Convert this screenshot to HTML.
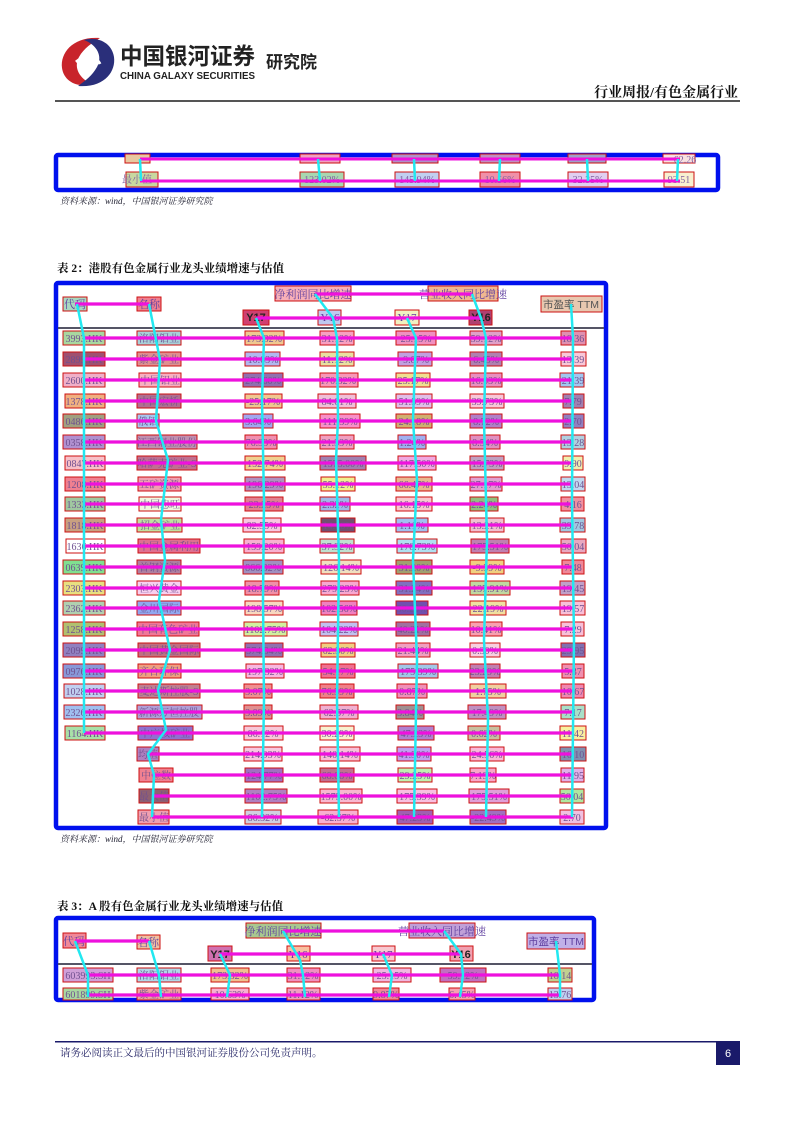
<!DOCTYPE html>
<html><head><meta charset="utf-8"><style>
html,body{margin:0;padding:0;background:#fff;}
body{width:794px;height:1123px;position:relative;overflow:hidden;font-family:"Liberation Serif","Noto Serif CJK SC",serif;}
svg{position:absolute;left:0;top:0;}
</style></head><body>
<svg width="794" height="1123" viewBox="0 0 794 1123" xmlns="http://www.w3.org/2000/svg" font-family="Liberation Serif, Noto Serif CJK SC, serif">
<!-- header -->
<path d="M100 38 C74 36 60 52 62 68 C64 82 78 88 92 84 C80 79 73 68 79 57 C84 48 92 43 100 38Z" fill="#c8242b"/>
<path d="M78 86 C104 88 116 72 114 57 C112 43 98 36 84 40 C97 45 103 56 97 67 C92 76 86 80 78 86Z" fill="#2a2f7a"/>
<path d="M76 62 C84 55 96 56 100 64" stroke="#fff" stroke-width="3" fill="none"/>
<text x="120" y="64" font-family="Liberation Sans, Noto Sans CJK SC, sans-serif" font-size="23" font-weight="bold" fill="#222" textLength="135" lengthAdjust="spacingAndGlyphs">中国银河证券</text>
<text x="120" y="79" font-family="Liberation Sans, sans-serif" font-size="10" font-weight="bold" fill="#222" textLength="135" lengthAdjust="spacingAndGlyphs">CHINA GALAXY SECURITIES</text>
<text x="266" y="68" font-family="Liberation Sans, Noto Sans CJK SC, sans-serif" font-size="17" font-weight="bold" fill="#222">研究院</text>
<text x="738" y="97" text-anchor="end" font-size="14" font-weight="bold" fill="#111">行业周报/有色金属行业</text>
<rect x="55" y="100" width="685" height="2" fill="#555"/>

<!-- table 1 -->
<rect x="56" y="155" width="662" height="35" fill="#fff" stroke="#0010ee" stroke-width="4.5" rx="2"/>
<g font-size="10" text-anchor="middle" stroke="#cc1111" stroke-width="1">
<rect x="125" y="154" width="25" height="9" fill="#e8c8a0"/><rect x="300" y="154" width="40" height="9" fill="#f0a0c0"/><rect x="392" y="154" width="46" height="9" fill="#b090c8"/><rect x="480" y="154" width="40" height="9" fill="#c090c0"/><rect x="568" y="154" width="38" height="9" fill="#a0a0c8"/><rect x="663" y="154" width="32" height="9" fill="#f8e0e0"/>
<rect x="126" y="172" width="32" height="15" fill="#c8d8a0"/><rect x="300" y="172" width="44" height="15" fill="#a8d8b0"/><rect x="395" y="172" width="44" height="15" fill="#c0d0f0"/><rect x="480" y="172" width="40" height="15" fill="#f090a8"/><rect x="568" y="172" width="40" height="15" fill="#e0d0f0"/><rect x="664" y="172" width="30" height="15" fill="#f8f0d0"/>
</g>
<g font-size="10" text-anchor="middle" fill="#8060a0">
<text x="137" y="183">最小值</text><text x="322" y="183">123.02%</text><text x="417" y="183">145.94%</text><text x="500" y="183">10.56%</text><text x="588" y="183">32.35%</text><text x="679" y="183">93.51</text>
<text x="685" y="163">62.26</text>
</g>
<g stroke="#ee11dd" stroke-width="3" fill="none"><path d="M140 159 H680"/><path d="M140 181 H680"/></g>
<g stroke="#22e8f0" stroke-width="2.5" fill="none"><path d="M140 159 L141 181"/><path d="M318 159 L320 181"/><path d="M414 159 L415 181"/><path d="M500 159 L499 181"/><path d="M587 159 L588 181"/><path d="M678 159 L677 181"/></g>
<text x="60" y="204" font-size="9" font-style="italic" fill="#223">资料来源：wind，中国银河证券研究院</text>

<!-- table 2 -->
<text x="57" y="272" font-size="11.5" font-weight="bold" fill="#111">表 2：港股有色金属行业龙头业绩增速与估值</text>
<rect x="56" y="283" width="550" height="545" fill="#fff" stroke="#0010ee" stroke-width="4.5" rx="2"/>
<rect x="58" y="327" width="546" height="2" fill="#556"/>
<g stroke="#cc1111" stroke-width="1">
<rect x="63" y="297" width="24" height="14" fill="#a8d8c0"/><rect x="137" y="297" width="24" height="14" fill="#f08090"/>
<rect x="275" y="286" width="76" height="15" fill="#f8b0b8"/><rect x="428" y="286" width="70" height="15" fill="#f0b890"/>
<rect x="541" y="296" width="61" height="16" fill="#e8c8b0"/>
<rect x="243" y="310" width="26" height="15" fill="#d04070"/><rect x="318" y="310" width="23" height="15" fill="#c0c8f0"/><rect x="395" y="310" width="24" height="15" fill="#f0f0c0"/><rect x="469" y="310" width="23" height="15" fill="#b04070"/>
</g>
<g font-size="11" text-anchor="middle" fill="#6040a0">
<text x="75" y="308">代码</text><text x="149" y="308">名称</text><text x="313" y="298">净利润同比增速</text><text x="463" y="298">营业收入同比增速</text>
<text x="571" y="308" fill="#555" font-family="Liberation Sans, Noto Sans CJK SC, sans-serif" font-size="10.5">市盈率 TTM</text>
<text x="256" y="321" font-weight="bold" fill="#222" font-family="Liberation Sans, sans-serif">Y17</text><text x="330" y="321">Y16</text><text x="407" y="321">Y17</text><text x="481" y="321" font-weight="bold" fill="#222" font-family="Liberation Sans, sans-serif">Y16</text>
</g>
<g font-size="10" text-anchor="middle" stroke-width="1">
<g transform="translate(0,338)"><rect x="63" y="-7" width="42" height="14" fill="#a8d8a0" stroke="#c11"/><rect x="137" y="-7" width="44" height="14" fill="#a8d0d8" stroke="#c11"/><rect x="245" y="-7" width="39" height="14" fill="#f0c890" stroke="#c11"/><rect x="320" y="-7" width="34" height="14" fill="#f8a0c0" stroke="#c11"/><rect x="396" y="-7" width="40" height="14" fill="#f090c0" stroke="#c11"/><rect x="470" y="-7" width="32" height="14" fill="#e0a0c8" stroke="#c11"/><rect x="561" y="-7" width="25" height="14" fill="#e090b0" stroke="#c11"/></g>
<g transform="translate(0,359)"><rect x="63" y="-7" width="42" height="14" fill="#a05070" stroke="#c11"/><rect x="137" y="-7" width="44" height="14" fill="#e09090" stroke="#c11"/><rect x="245" y="-7" width="35" height="14" fill="#b0b8f0" stroke="#c11"/><rect x="320" y="-7" width="34" height="14" fill="#e8e0a0" stroke="#c11"/><rect x="398" y="-7" width="34" height="14" fill="#c0a0e0" stroke="#c11"/><rect x="470" y="-7" width="32" height="14" fill="#b080b0" stroke="#c11"/><rect x="561" y="-7" width="25" height="14" fill="#f8c8d8" stroke="#c11"/></g>
<g transform="translate(0,380)"><rect x="63" y="-7" width="42" height="14" fill="#f0b0c8" stroke="#c11"/><rect x="139" y="-7" width="42" height="14" fill="#f8b0c0" stroke="#c11"/><rect x="243" y="-7" width="40" height="14" fill="#9070b0" stroke="#c11"/><rect x="320" y="-7" width="38" height="14" fill="#f898b8" stroke="#c11"/><rect x="396" y="-7" width="34" height="14" fill="#f0e090" stroke="#c11"/><rect x="470" y="-7" width="32" height="14" fill="#e890c0" stroke="#c11"/><rect x="560" y="-7" width="24" height="14" fill="#a0c8f0" stroke="#c11"/></g>
<g transform="translate(0,401)"><rect x="65" y="-7" width="40" height="14" fill="#f0b080" stroke="#c11"/><rect x="137" y="-7" width="44" height="14" fill="#b07090" stroke="#c11"/><rect x="245" y="-7" width="37" height="14" fill="#f0c890" stroke="#c11"/><rect x="318" y="-7" width="38" height="14" fill="#f0c0d8" stroke="#c11"/><rect x="396" y="-7" width="36" height="14" fill="#e0c0e8" stroke="#c11"/><rect x="470" y="-7" width="34" height="14" fill="#f8c8d8" stroke="#c11"/><rect x="563" y="-7" width="21" height="14" fill="#a080b0" stroke="#c11"/></g>
<g transform="translate(0,421)"><rect x="63" y="-7" width="42" height="14" fill="#a0a080" stroke="#c11"/><rect x="137" y="-7" width="22" height="14" fill="#a8c8f0" stroke="#c11"/><rect x="243" y="-7" width="30" height="14" fill="#a0a8f0" stroke="#c11"/><rect x="320" y="-7" width="40" height="14" fill="#f890c8" stroke="#c11"/><rect x="396" y="-7" width="36" height="14" fill="#d0b070" stroke="#c11"/><rect x="470" y="-7" width="32" height="14" fill="#b080c8" stroke="#c11"/><rect x="563" y="-7" width="21" height="14" fill="#9080c0" stroke="#c11"/></g>
<g transform="translate(0,442)"><rect x="63" y="-7" width="42" height="14" fill="#b090d0" stroke="#c11"/><rect x="137" y="-7" width="60" height="14" fill="#c090b0" stroke="#c11"/><rect x="245" y="-7" width="32" height="14" fill="#f090b0" stroke="#c11"/><rect x="320" y="-7" width="34" height="14" fill="#f0a0c0" stroke="#c11"/><rect x="398" y="-7" width="28" height="14" fill="#a0b0f0" stroke="#c11"/><rect x="470" y="-7" width="30" height="14" fill="#e090c0" stroke="#c11"/><rect x="561" y="-7" width="24" height="14" fill="#b0d0e0" stroke="#c11"/></g>
<g transform="translate(0,463)"><rect x="65" y="-7" width="40" height="14" fill="#f8c0c8" stroke="#c11"/><rect x="137" y="-7" width="60" height="14" fill="#c07090" stroke="#c11"/><rect x="245" y="-7" width="40" height="14" fill="#f0d090" stroke="#c11"/><rect x="320" y="-7" width="46" height="14" fill="#a080b0" stroke="#c11"/><rect x="398" y="-7" width="38" height="14" fill="#f0a8e0" stroke="#c11"/><rect x="470" y="-7" width="34" height="14" fill="#c0a0c0" stroke="#c11"/><rect x="563" y="-7" width="20" height="14" fill="#f0f0b0" stroke="#c11"/></g>
<g transform="translate(0,484)"><rect x="65" y="-7" width="40" height="14" fill="#f08090" stroke="#c11"/><rect x="138" y="-7" width="43" height="14" fill="#f0a0b0" stroke="#c11"/><rect x="245" y="-7" width="40" height="14" fill="#b090c0" stroke="#c11"/><rect x="321" y="-7" width="34" height="14" fill="#f0f090" stroke="#c11"/><rect x="396" y="-7" width="36" height="14" fill="#e8b890" stroke="#c11"/><rect x="470" y="-7" width="32" height="14" fill="#e0a0d0" stroke="#c11"/><rect x="561" y="-7" width="24" height="14" fill="#c0d8f0" stroke="#c11"/></g>
<g transform="translate(0,504)"><rect x="65" y="-7" width="40" height="14" fill="#a0c8a0" stroke="#c11"/><rect x="139" y="-7" width="42" height="14" fill="#f0f8e0" stroke="#c11"/><rect x="245" y="-7" width="38" height="14" fill="#e08090" stroke="#c11"/><rect x="320" y="-7" width="30" height="14" fill="#a0b8e8" stroke="#c11"/><rect x="396" y="-7" width="36" height="14" fill="#f8c8d0" stroke="#c11"/><rect x="470" y="-7" width="28" height="14" fill="#90c080" stroke="#c11"/><rect x="561" y="-7" width="23" height="14" fill="#f090a0" stroke="#c11"/></g>
<g transform="translate(0,525)"><rect x="65" y="-7" width="40" height="14" fill="#c8a080" stroke="#c11"/><rect x="137" y="-7" width="45" height="14" fill="#c0e0a0" stroke="#c11"/><rect x="243" y="-7" width="38" height="14" fill="#f8c8e0" stroke="#c11"/><rect x="321" y="-7" width="34" height="14" fill="#705070" stroke="#c11"/><rect x="396" y="-7" width="32" height="14" fill="#a0c0f0" stroke="#c11"/><rect x="470" y="-7" width="34" height="14" fill="#f0c0d0" stroke="#c11"/><rect x="560" y="-7" width="25" height="14" fill="#a0c8e0" stroke="#c11"/></g>
<g transform="translate(0,546)"><rect x="66" y="-7" width="39" height="14" fill="#fff" stroke="#c11"/><rect x="138" y="-7" width="62" height="14" fill="#e07090" stroke="#c11"/><rect x="244" y="-7" width="40" height="14" fill="#f8b0d0" stroke="#c11"/><rect x="320" y="-7" width="34" height="14" fill="#c0e0d0" stroke="#c11"/><rect x="397" y="-7" width="40" height="14" fill="#b0e0f0" stroke="#c11"/><rect x="471" y="-7" width="38" height="14" fill="#c080b0" stroke="#c11"/><rect x="561" y="-7" width="25" height="14" fill="#e8a8c0" stroke="#c11"/></g>
<g transform="translate(0,567)"><rect x="63" y="-7" width="42" height="14" fill="#80e090" stroke="#c11"/><rect x="137" y="-7" width="44" height="14" fill="#b080a0" stroke="#c11"/><rect x="243" y="-7" width="40" height="14" fill="#a090c0" stroke="#c11"/><rect x="321" y="-7" width="40" height="14" fill="#f0e0c0" stroke="#c11"/><rect x="396" y="-7" width="36" height="14" fill="#a0a070" stroke="#c11"/><rect x="470" y="-7" width="34" height="14" fill="#f0d080" stroke="#c11"/><rect x="562" y="-7" width="22" height="14" fill="#f08898" stroke="#c11"/></g>
<g transform="translate(0,588)"><rect x="63" y="-7" width="42" height="14" fill="#e8e080" stroke="#c11"/><rect x="137" y="-7" width="44" height="14" fill="#f8d0f0" stroke="#c11"/><rect x="245" y="-7" width="34" height="14" fill="#f090a8" stroke="#c11"/><rect x="321" y="-7" width="38" height="14" fill="#f8a8d0" stroke="#c11"/><rect x="396" y="-7" width="36" height="14" fill="#8070c0" stroke="#c11"/><rect x="470" y="-7" width="40" height="14" fill="#c0d8a0" stroke="#c11"/><rect x="560" y="-7" width="25" height="14" fill="#c0a0c8" stroke="#c11"/></g>
<g transform="translate(0,608)"><rect x="63" y="-7" width="42" height="14" fill="#b0d0b0" stroke="#c11"/><rect x="137" y="-7" width="44" height="14" fill="#90a8f0" stroke="#c11"/><rect x="245" y="-7" width="38" height="14" fill="#f8d8c0" stroke="#c11"/><rect x="321" y="-7" width="36" height="14" fill="#f080c0" stroke="#c11"/><rect x="396" y="-7" width="32" height="14" fill="#7050b0" stroke="#c11"/><rect x="470" y="-7" width="36" height="14" fill="#f0e0a0" stroke="#c11"/><rect x="560" y="-7" width="25" height="14" fill="#f8c0d8" stroke="#c11"/></g>
<g transform="translate(0,629)"><rect x="63" y="-7" width="42" height="14" fill="#b0c070" stroke="#c11"/><rect x="137" y="-7" width="62" height="14" fill="#f07898" stroke="#c11"/><rect x="244" y="-7" width="43" height="14" fill="#d0f0a0" stroke="#c11"/><rect x="320" y="-7" width="38" height="14" fill="#c0c0f0" stroke="#c11"/><rect x="396" y="-7" width="34" height="14" fill="#a070a0" stroke="#c11"/><rect x="470" y="-7" width="32" height="14" fill="#f8a0b0" stroke="#c11"/><rect x="561" y="-7" width="23" height="14" fill="#f8c0d8" stroke="#c11"/></g>
<g transform="translate(0,650)"><rect x="63" y="-7" width="42" height="14" fill="#9080c0" stroke="#c11"/><rect x="138" y="-7" width="62" height="14" fill="#c07080" stroke="#c11"/><rect x="245" y="-7" width="38" height="14" fill="#9070b0" stroke="#c11"/><rect x="321" y="-7" width="34" height="14" fill="#f0d080" stroke="#c11"/><rect x="396" y="-7" width="34" height="14" fill="#f0a0c0" stroke="#c11"/><rect x="470" y="-7" width="30" height="14" fill="#f8d0e0" stroke="#c11"/><rect x="561" y="-7" width="24" height="14" fill="#8070b0" stroke="#c11"/></g>
<g transform="translate(0,671)"><rect x="63" y="-7" width="42" height="14" fill="#8898d8" stroke="#c11"/><rect x="138" y="-7" width="43" height="14" fill="#f0a080" stroke="#c11"/><rect x="246" y="-7" width="38" height="14" fill="#f8b8e0" stroke="#c11"/><rect x="321" y="-7" width="34" height="14" fill="#f07090" stroke="#c11"/><rect x="398" y="-7" width="40" height="14" fill="#a0c8e8" stroke="#c11"/><rect x="470" y="-7" width="30" height="14" fill="#c080b0" stroke="#c11"/><rect x="562" y="-7" width="22" height="14" fill="#f090b0" stroke="#c11"/></g>
<g transform="translate(0,691)"><rect x="64" y="-7" width="41" height="14" fill="#c0d0f0" stroke="#c11"/><rect x="138" y="-7" width="62" height="14" fill="#c08090" stroke="#c11"/><rect x="244" y="-7" width="28" height="14" fill="#f09090" stroke="#c11"/><rect x="320" y="-7" width="34" height="14" fill="#f08088" stroke="#c11"/><rect x="397" y="-7" width="30" height="14" fill="#f090b8" stroke="#c11"/><rect x="470" y="-7" width="36" height="14" fill="#f0d0a0" stroke="#c11"/><rect x="561" y="-7" width="23" height="14" fill="#f088b0" stroke="#c11"/></g>
<g transform="translate(0,712)"><rect x="64" y="-7" width="41" height="14" fill="#a0c0f0" stroke="#c11"/><rect x="137" y="-7" width="65" height="14" fill="#b0a0d8" stroke="#c11"/><rect x="244" y="-7" width="28" height="14" fill="#e09090" stroke="#c11"/><rect x="320" y="-7" width="38" height="14" fill="#f0b0d0" stroke="#c11"/><rect x="396" y="-7" width="28" height="14" fill="#a09090" stroke="#c11"/><rect x="468" y="-7" width="38" height="14" fill="#c090c0" stroke="#c11"/><rect x="561" y="-7" width="24" height="14" fill="#a8e0c8" stroke="#c11"/></g>
<g transform="translate(0,733)"><rect x="65" y="-7" width="40" height="14" fill="#a8e0a8" stroke="#c11"/><rect x="138" y="-7" width="55" height="14" fill="#9070d0" stroke="#c11"/><rect x="244" y="-7" width="39" height="14" fill="#f8c8d8" stroke="#c11"/><rect x="320" y="-7" width="34" height="14" fill="#f8f0d0" stroke="#c11"/><rect x="398" y="-7" width="36" height="14" fill="#b080d0" stroke="#c11"/><rect x="468" y="-7" width="32" height="14" fill="#c8c0a0" stroke="#c11"/><rect x="560" y="-7" width="26" height="14" fill="#f8f0a0" stroke="#c11"/></g>
<g transform="translate(0,754)"><rect x="137" y="-7" width="22" height="14" fill="#b080c0" stroke="#c11"/><rect x="244" y="-7" width="38" height="14" fill="#f8c8e0" stroke="#c11"/><rect x="320" y="-7" width="40" height="14" fill="#f8c0d8" stroke="#c11"/><rect x="397" y="-7" width="34" height="14" fill="#c0a0f0" stroke="#c11"/><rect x="470" y="-7" width="34" height="14" fill="#f8b8d8" stroke="#c11"/><rect x="560" y="-7" width="26" height="14" fill="#8090b0" stroke="#c11"/></g>
<g transform="translate(0,775)"><rect x="139" y="-7" width="34" height="14" fill="#f08090" stroke="#c11"/><rect x="245" y="-7" width="38" height="14" fill="#a070c0" stroke="#c11"/><rect x="320" y="-7" width="34" height="14" fill="#c07090" stroke="#c11"/><rect x="398" y="-7" width="34" height="14" fill="#c0f0b0" stroke="#c11"/><rect x="470" y="-7" width="26" height="14" fill="#f8a8c8" stroke="#c11"/><rect x="561" y="-7" width="23" height="14" fill="#e0b0e8" stroke="#c11"/></g>
<g transform="translate(0,796)"><rect x="139" y="-7" width="30" height="14" fill="#906070" stroke="#c11"/><rect x="245" y="-7" width="42" height="14" fill="#b080c0" stroke="#c11"/><rect x="320" y="-7" width="42" height="14" fill="#f8b8d0" stroke="#c11"/><rect x="397" y="-7" width="40" height="14" fill="#f8c0e0" stroke="#c11"/><rect x="469" y="-7" width="40" height="14" fill="#e0a0d8" stroke="#c11"/><rect x="560" y="-7" width="24" height="14" fill="#b0e8a0" stroke="#c11"/></g>
<g transform="translate(0,817)"><rect x="138" y="-7" width="31" height="14" fill="#f0a0b0" stroke="#c11"/><rect x="245" y="-7" width="36" height="14" fill="#d0d0e0" stroke="#c11"/><rect x="318" y="-7" width="40" height="14" fill="#f8b0d0" stroke="#c11"/><rect x="397" y="-7" width="36" height="14" fill="#a060b0" stroke="#c11"/><rect x="470" y="-7" width="36" height="14" fill="#a070c0" stroke="#c11"/><rect x="560" y="-7" width="24" height="14" fill="#f0c0e0" stroke="#c11"/></g>
</g>
<g font-size="10" fill="#705090" text-anchor="middle">
<text x="84" y="342">3993.HK</text><text x="159" y="342">洛阳钼业</text><text x="264" y="342">173.32%</text><text x="337" y="342">31.12%</text><text x="416" y="342">25.15%</text><text x="486" y="342">59.12%</text><text x="573" y="342">18.36</text>
<text x="84" y="363">2899.HK</text><text x="159" y="363">紫金矿业</text><text x="263" y="363">10.63%</text><text x="337" y="363">11.12%</text><text x="416" y="363">9.87%</text><text x="486" y="363">6.45%</text><text x="573" y="363">13.39</text>
<text x="84" y="384">2600.HK</text><text x="160" y="384">中国铝业</text><text x="263" y="384">274.60%</text><text x="338" y="384">170.32%</text><text x="413" y="384">25.17%</text><text x="486" y="384">16.03%</text><text x="573" y="384">21.39</text>
<text x="84" y="405">1378.HK</text><text x="159" y="405">中国宏桥</text><text x="263" y="405">-25.17%</text><text x="337" y="405">84.61%</text><text x="414" y="405">51.59%</text><text x="487" y="405">39.73%</text><text x="573" y="405">7.79</text>
<text x="84" y="425">0486.HK</text><text x="148" y="425">俄铝</text><text x="258" y="425">3.64%</text><text x="340" y="425">111.39%</text><text x="414" y="425">24.18%</text><text x="486" y="425">8.72%</text><text x="573" y="425">2.70</text>
<text x="84" y="446">0358.HK</text><text x="167" y="446">江西铜业股份</text><text x="261" y="446">76.33%</text><text x="337" y="446">21.33%</text><text x="412" y="446">1.24%</text><text x="485" y="446">8.54%</text><text x="573" y="446">13.28</text>
<text x="85" y="467">0847.HK</text><text x="167" y="467">哈萨克矿业-S</text><text x="265" y="467">152.74%</text><text x="343" y="467">1575.00%</text><text x="417" y="467">117.50%</text><text x="487" y="467">15.73%</text><text x="573" y="467">9.90</text>
<text x="85" y="488">1208.HK</text><text x="159" y="488">五矿资源</text><text x="265" y="488">196.29%</text><text x="338" y="488">55.12%</text><text x="414" y="488">66.47%</text><text x="486" y="488">27.17%</text><text x="573" y="488">13.04</text>
<text x="85" y="508">1333.HK</text><text x="160" y="508">中国忠旺</text><text x="264" y="508">23.25%</text><text x="335" y="508">2.32%</text><text x="414" y="508">16.15%</text><text x="484" y="508">2.24%</text><text x="573" y="508">4.16</text>
<text x="85" y="529">1818.HK</text><text x="160" y="529">招金矿业</text><text x="262" y="529">82.55%</text><text x="338" y="529">14.66%</text><text x="412" y="529">1.11%</text><text x="487" y="529">13.21%</text><text x="573" y="529">39.78</text>
<text x="85" y="550">1636.HK</text><text x="169" y="550">中国金属利用</text><text x="264" y="550">159.20%</text><text x="337" y="550">37.32%</text><text x="417" y="550">170.73%</text><text x="490" y="550">175.51%</text><text x="573" y="550">50.04</text>
<text x="84" y="571">0639.HK</text><text x="159" y="571">首钢资源</text><text x="263" y="571">866.32%</text><text x="341" y="571">126.14%</text><text x="414" y="571">31.20%</text><text x="487" y="571">-9.39%</text><text x="573" y="571">7.48</text>
<text x="84" y="592">2303.HK</text><text x="159" y="592">恒兴黄金</text><text x="262" y="592">18.79%</text><text x="340" y="592">279.23%</text><text x="414" y="592">31.24%</text><text x="490" y="592">137.91%</text><text x="573" y="592">19.45</text>
<text x="84" y="612">2362.HK</text><text x="159" y="612">金川国际</text><text x="264" y="612">198.57%</text><text x="339" y="612">102.56%</text><text x="412" y="612">50.20%</text><text x="488" y="612">22.19%</text><text x="573" y="612">19.57</text>
<text x="84" y="633">1258.HK</text><text x="168" y="633">中国有色矿业</text><text x="265" y="633">1102.75%</text><text x="339" y="633">104.22%</text><text x="413" y="633">40.21%</text><text x="486" y="633">10.41%</text><text x="573" y="633">7.29</text>
<text x="84" y="654">2099.HK</text><text x="169" y="654">中国黄金国际</text><text x="264" y="654">574.34%</text><text x="338" y="654">62.30%</text><text x="413" y="654">21.44%</text><text x="485" y="654">0.30%</text><text x="573" y="654">29.95</text>
<text x="84" y="675">0976.HK</text><text x="159" y="675">齐合环保</text><text x="265" y="675">197.32%</text><text x="338" y="675">54.17%</text><text x="418" y="675">175.39%</text><text x="485" y="675">23.29%</text><text x="573" y="675">5.37</text>
<text x="84" y="695">1028.HK</text><text x="169" y="695">麦达斯控股-S</text><text x="258" y="695">3.07%</text><text x="337" y="695">76.39%</text><text x="412" y="695">0.87%</text><text x="488" y="695">1.75%</text><text x="573" y="695">10.67</text>
<text x="84" y="716">2326.HK</text><text x="169" y="716">新源万恒控股</text><text x="258" y="716">3.89%</text><text x="339" y="716">62.57%</text><text x="410" y="716">3.84%</text><text x="487" y="716">17.49%</text><text x="573" y="716">7.17</text>
<text x="85" y="737">1164.HK</text><text x="165" y="737">中广核矿业</text><text x="263" y="737">86.12%</text><text x="337" y="737">30.29%</text><text x="416" y="737">47.23%</text><text x="484" y="737">0.62%</text><text x="573" y="737">11.42</text>
<text x="148" y="758">均值</text><text x="263" y="758">214.93%</text><text x="340" y="758">140.14%</text><text x="414" y="758">41.30%</text><text x="487" y="758">24.56%</text><text x="573" y="758">16.10</text>
<text x="156" y="779">中位数</text><text x="264" y="779">124.77%</text><text x="337" y="779">68.08%</text><text x="415" y="779">29.25%</text><text x="483" y="779">7.19%</text><text x="573" y="779">11.95</text>
<text x="154" y="800">最大值</text><text x="266" y="800">1102.75%</text><text x="341" y="800">1575.00%</text><text x="417" y="800">175.39%</text><text x="489" y="800">175.51%</text><text x="572" y="800">50.04</text>
<text x="154" y="821">最小值</text><text x="263" y="821">86.32%</text><text x="338" y="821">-62.57%</text><text x="415" y="821">47.23%</text><text x="488" y="821">-22.49%</text><text x="572" y="821">2.70</text>
</g>
<g stroke="#ee11dd" stroke-width="3.2" fill="none">
<path d="M75 304 H149"/><path d="M315 294 H472"/><path d="M256 318 H481"/>
<path d="M84 338 H573"/><path d="M84 359 H573"/><path d="M84 380 H573"/><path d="M84 401 H573"/><path d="M84 421 H573"/><path d="M84 442 H573"/><path d="M84 463 H573"/><path d="M84 484 H573"/><path d="M84 504 H573"/><path d="M84 525 H573"/><path d="M84 546 H573"/><path d="M84 567 H573"/><path d="M84 588 H573"/><path d="M84 608 H573"/><path d="M84 629 H573"/><path d="M84 650 H573"/><path d="M84 671 H573"/><path d="M84 691 H573"/><path d="M84 712 H573"/><path d="M84 733 H573"/>
<path d="M148 754 H573"/><path d="M152 775 H573"/><path d="M152 796 H573"/><path d="M152 817 H573"/>
</g>
<g stroke="#22e8f0" stroke-width="2.5" fill="none">
<path d="M77 304 L84 338 L84 733"/>
<path d="M149 304 L160 360 L156 421 L168 460 L161 520 L165 560 L159 600 L170 650 L158 690 L166 730 L148 754 L154 775 L152 817"/>
<path d="M256 318 L264 338 L262 400 L264 500 L263 600 L264 700 L262 817"/>
<path d="M315 294 L333 318 L337 338 L338 420 L336 460 L339 560 L337 700 L339 817"/>
<path d="M407 318 L416 338 L413 420 L417 480 L413 560 L417 660 L414 817"/>
<path d="M472 294 L481 318 L486 338 L484 420 L487 540 L484 640 L488 720 L486 817"/>
<path d="M571 304 L573 338 L572 500 L574 640 L572 817"/>
</g>
<text x="60" y="842" font-size="9" font-style="italic" fill="#223">资料来源：wind，中国银河证券研究院</text>

<!-- table 3 -->
<text x="57" y="910" font-size="11.5" font-weight="bold" fill="#111">表 3：A 股有色金属行业龙头业绩增速与估值</text>
<rect x="56" y="918" width="538" height="82" fill="#fff" stroke="#0010ee" stroke-width="4.5" rx="2"/>
<rect x="58" y="963" width="534" height="2" fill="#556"/>
<g stroke="#cc1111" stroke-width="1">
<rect x="63" y="933" width="23" height="15" fill="#f08898"/><rect x="137" y="935" width="23" height="14" fill="#f0c0a0"/>
<rect x="246" y="923" width="75" height="15" fill="#a8c890"/><rect x="409" y="923" width="66" height="15" fill="#c0a0d8"/>
<rect x="527" y="933" width="58" height="16" fill="#c0b0e8"/>
<rect x="208" y="946" width="24" height="15" fill="#d070b0"/><rect x="287" y="946" width="23" height="15" fill="#f8c0a0"/><rect x="372" y="946" width="23" height="15" fill="#f8c8d0"/><rect x="450" y="946" width="23" height="15" fill="#f0a0b0"/>
<rect x="63" y="968" width="50" height="14" fill="#d0a0d8"/><rect x="137" y="968" width="44" height="14" fill="#b0d8e8"/><rect x="211" y="968" width="38" height="14" fill="#f0c090"/><rect x="287" y="968" width="33" height="14" fill="#f090c0"/><rect x="373" y="968" width="38" height="14" fill="#f0b8e0"/><rect x="440" y="968" width="46" height="14" fill="#c070c0"/><rect x="548" y="968" width="24" height="14" fill="#c0d090"/>
<rect x="63" y="988" width="50" height="12" fill="#a8d8a0"/><rect x="137" y="988" width="44" height="12" fill="#f0a0a0"/><rect x="211" y="988" width="38" height="12" fill="#f8b0d0"/><rect x="287" y="988" width="33" height="12" fill="#f0a0c0"/><rect x="373" y="988" width="26" height="12" fill="#f08898"/><rect x="449" y="988" width="26" height="12" fill="#f8a0b0"/><rect x="548" y="988" width="24" height="12" fill="#c0d0f0"/>
</g>
<g font-size="11" text-anchor="middle" fill="#6040a0">
<text x="74" y="945">代码</text><text x="148" y="946">名称</text><text x="283" y="935">净利润同比增速</text><text x="442" y="935">营业收入同比增速</text>
<text x="556" y="945" font-family="Liberation Sans, Noto Sans CJK SC, sans-serif" font-size="10.5">市盈率 TTM</text>
<text x="220" y="958" font-weight="bold" fill="#222" font-family="Liberation Sans, sans-serif">Y17</text><text x="298" y="958">Y16</text><text x="383" y="958">Y17</text><text x="461" y="958" font-weight="bold" fill="#222" font-family="Liberation Sans, sans-serif">Y16</text>
</g>
<g font-size="10" fill="#705090" text-anchor="middle">
<text x="88" y="979">603993.SH</text><text x="159" y="979">洛阳钼业</text><text x="230" y="979">173.32%</text><text x="303" y="979">31.12%</text><text x="392" y="979">25.15%</text><text x="463" y="979">59.12%</text><text x="560" y="979">18.14</text>
<text x="88" y="998">601899.SH</text><text x="159" y="998">紫金矿业</text><text x="230" y="998">10.63%</text><text x="303" y="998">11.12%</text><text x="386" y="998">9.87%</text><text x="462" y="998">6.45%</text><text x="560" y="998">13.76</text>
</g>
<g stroke="#ee11dd" stroke-width="3.2" fill="none">
<path d="M75 941 H149"/><path d="M283 931 H444"/><path d="M220 954 H461"/>
<path d="M88 975 H560"/><path d="M88 995 H560"/>
</g>
<g stroke="#22e8f0" stroke-width="2.5" fill="none">
<path d="M75 941 L88 975 L88 997"/><path d="M149 941 L159 975 L161 997"/><path d="M220 954 L230 975 L227 997"/>
<path d="M283 931 L300 960 L303 975 L305 997"/><path d="M383 954 L392 975 L389 997"/><path d="M444 931 L461 954 L463 975 L460 997"/><path d="M556 941 L560 975 L560 997"/>
</g>

<!-- footer -->
<rect x="55" y="1041" width="685" height="1.5" fill="#1a1a6a"/>
<text x="60" y="1056" font-size="10.5" fill="#2a2a6a">请务必阅读正文最后的中国银河证券股份公司免责声明。</text>
<rect x="716" y="1042" width="24" height="23" fill="#1a1a6a"/>
<text x="728" y="1057" font-size="11" text-anchor="middle" fill="#fff" font-family="Liberation Sans, sans-serif">6</text>
</svg>
</body></html>
